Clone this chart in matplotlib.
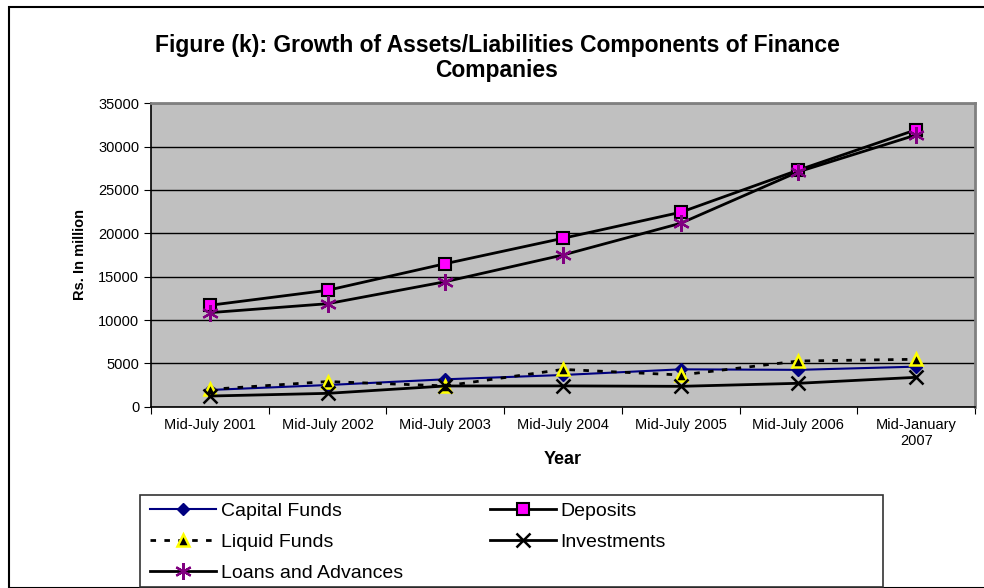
import matplotlib.pyplot as plt
from matplotlib.patches import Rectangle
import numpy as np

years = ["Mid-July 2001", "Mid-July 2002", "Mid-July 2003", "Mid-July 2004",
         "Mid-July 2005", "Mid-July 2006", "Mid-January\n2007"]
capital_funds = [1930, 2500, 3160, 3660, 4310, 4250, 4620]
deposits = [11700, 13430, 16500, 19430, 22430, 27300, 31950]
liquid_funds = [2000, 2900, 2400, 4300, 3660, 5270, 5470]
investments = [1230, 1540, 2390, 2400, 2350, 2700, 3390]
loans = [10850, 11880, 14420, 17500, 21160, 27100, 31350]

plt.rcParams['font.family'] = ['Liberation Sans', 'DejaVu Sans']

fig = plt.figure(figsize=(9.84, 5.88), dpi=100)
# contour du graphique
fig.add_artist(Rectangle((9/984, 0), 1.0, 1 - 7/588, transform=fig.transFigure,
                         fill=False, edgecolor='black', linewidth=1.5))

ax = fig.add_axes([151/984, 1 - 406.7/588, 824/984, 303.4/588])
ax.set_facecolor('#c0c0c0')
x = np.arange(len(years))

ax.plot(x, capital_funds, color='#000080', lw=1.5, marker='D', ms=6,
        mfc='#000080', mec='#000080', label='Capital Funds', zorder=3)
ax.plot(x, deposits, color='black', lw=2, marker='s', ms=9,
        mfc='#ff00ff', mec='black', mew=1.5, label='Deposits', zorder=3)
ax.plot(x, liquid_funds, color='black', lw=2, ls=(0, (2, 3)), marker='^', ms=9,
        mfc='black', mec='#ffff00', mew=1.8, label='Liquid Funds', zorder=3)
ax.plot(x, investments, color='black', lw=2, marker='x', ms=10, mew=1.8,
        mec='black', label='Investments', zorder=3)
ax.plot(x, loans, color='black', lw=2, marker=(6, 2, 0), ms=12, mew=1.6,
        mec='#800080', label='Loans and Advances', zorder=3)

ax.set_xlim(-0.5, len(years) - 0.5)
ax.set_ylim(0, 35000)
ax.set_yticks(np.arange(0, 35001, 5000))
ax.set_xticks(np.arange(-0.5, len(years), 1.0), minor=False)
ax.set_xticklabels([])
ax.set_xticks(x, minor=True)
ax.set_xticklabels(years, minor=True, fontsize=10.5)
ax.tick_params(axis='x', which='minor', length=0, pad=8)
ax.tick_params(axis='x', which='major', length=5, color='black')
ax.tick_params(axis='y', labelsize=10.5, length=5)
ax.yaxis.grid(True, color='black', lw=1)
ax.set_axisbelow(True)
for s in ['left', 'bottom']:
    ax.spines[s].set_color('black')
    ax.spines[s].set_linewidth(1.2)
for s in ['top', 'right']:
    ax.spines[s].set_color('#808080')
    ax.spines[s].set_linewidth(2)

ax.set_ylabel("Rs. In million", fontsize=10.5, fontweight='bold', labelpad=8)
ax.set_xlabel("Year", fontsize=13, fontweight='bold', labelpad=2)

fig.text(497/984, 1 - 58/588,
         "Figure (k): Growth of Assets/Liabilities Components of Finance\nCompanies",
         ha='center', va='center', fontsize=16.5, fontweight='bold', linespacing=1.15)

# cadre de la légende
fig.add_artist(Rectangle((140/984, 1/588), 743/984, 92/588, transform=fig.transFigure,
                         fill=False, edgecolor='#333333', linewidth=1.2))

handles, labels = ax.get_legend_handles_labels()
order = [0, 2, 4, 1, 3]
leg = fig.legend([handles[i] for i in order], [labels[i] for i in order],
                 ncol=2, loc='upper left',
                 bbox_to_anchor=(150/984, 1 - 502/588),
                 frameon=False, fontsize=14,
                 borderpad=0, labelspacing=0.7, handlelength=3.4,
                 handletextpad=0.25, borderaxespad=0, columnspacing=4.45)

plt.savefig("out.png", dpi=100)
